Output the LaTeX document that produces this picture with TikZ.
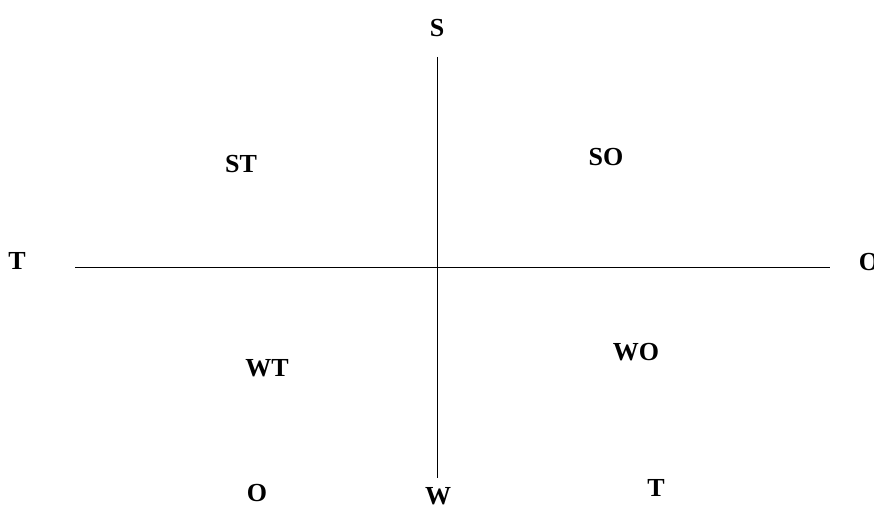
\documentclass[tikz,border=0pt]{standalone}
\usepackage{fontspec}
\setmainfont{Liberation Serif}
\usepackage{tikz}
\usetikzlibrary{positioning}
\tikzset{
    axislabel/.style={font=\bfseries\fontsize{26}{29}\selectfont, inner sep=0pt, text=black},
    axis/.style={draw=black, line width=0.8pt}
}
\begin{document}
\begin{tikzpicture}[x=1pt, y=-1pt]
    \useasboundingbox (0,0) rectangle (874,508);
    % axis end points
    \coordinate (top) at (437,57);
    \coordinate (bottom) at (437,478);
    \coordinate (left) at (75,267);
    \coordinate (right) at (830,267);

    \draw [axis] (top) -- (bottom);
    \draw [axis] (left) -- (right);

    % axis labels
    \node (s) [axislabel] at (437,28) {S};
    \node (w) [axislabel] at (438,496) {W};
    \node (t) [axislabel] at (17,261) {T};
    \node (o) [axislabel] at (869,262) {O};

    % quadrants
    \node (st) [axislabel] at (241,164) {ST};
    \node (so) [axislabel] at (606,157) {SO};
    \node (wt) [axislabel] at (267,368) {WT};
    \node (wo) [axislabel] at (636,352) {WO};

    % bottom row
    \node (ob) [axislabel] at (257,493) {O};
    \node (tb) [axislabel] at (656,488) {T};
\end{tikzpicture}
\end{document}
